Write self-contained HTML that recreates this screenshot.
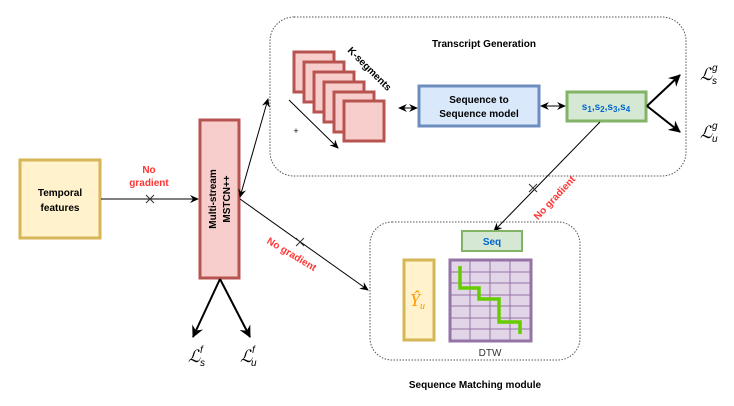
<!DOCTYPE html>
<html><head><meta charset="utf-8"><style>
html,body{margin:0;padding:0;background:#fff;}
svg{display:block;font-family:"Liberation Sans",sans-serif;}
</style></head><body>
<svg width="734" height="406" viewBox="0 0 734 406" xmlns="http://www.w3.org/2000/svg">
<defs>
<marker id="a" markerWidth="10" markerHeight="10" refX="8" refY="5" orient="auto" markerUnits="userSpaceOnUse"><path d="M0,1 L9,5 L0,9 L3,5 Z" fill="#000"/></marker>
<marker id="as" markerWidth="10" markerHeight="10" refX="1" refY="5" orient="auto" markerUnits="userSpaceOnUse"><path d="M9,1 L0,5 L9,9 L6,5 Z" fill="#000"/></marker>
<marker id="b" markerWidth="14" markerHeight="14" refX="11" refY="7" orient="auto" markerUnits="userSpaceOnUse"><path d="M0,1 L12,7 L0,13 L4,7 Z" fill="#000"/></marker>
</defs>
<rect x="270" y="17" width="416" height="159" rx="24" fill="none" stroke="#555" stroke-dasharray="1.5,1.5"/>
<rect x="370" y="222" width="210" height="138" rx="22" fill="none" stroke="#555" stroke-dasharray="1.5,1.5"/>
<text x="484" y="47" font-size="10" font-weight="bold" text-anchor="middle">Transcript Generation</text>
<text x="475" y="388" font-size="10" font-weight="bold" text-anchor="middle">Sequence Matching module</text>
<rect x="20" y="160" width="80" height="78" fill="#fff2cc" stroke="#d6b656" stroke-width="3"/>
<text x="60" y="196" font-size="10" font-weight="bold" text-anchor="middle">Temporal</text>
<text x="60" y="211" font-size="10" font-weight="bold" text-anchor="middle">features</text>
<line x1="101" y1="199" x2="198" y2="199" stroke="#000" marker-end="url(#a)"/>
<path d="M146,195 L154,203 M154,195 L146,203" stroke="#333" stroke-width="1"/>
<text x="149" y="173" font-size="10" font-weight="bold" fill="#ff3333" text-anchor="middle">No</text>
<text x="149" y="186" font-size="10" font-weight="bold" fill="#ff3333" text-anchor="middle">gradient</text>
<rect x="200" y="120" width="39" height="158" fill="#f8cecc" stroke="#b85450" stroke-width="3"/>
<text transform="translate(216,199) rotate(-90)" font-size="10" font-weight="bold" text-anchor="middle">Multi-stream</text>
<text transform="translate(230,199) rotate(-90)" font-size="10" font-weight="bold" text-anchor="middle">MSTCN++</text>
<line x1="220" y1="279" x2="193" y2="337" stroke="#000" stroke-width="2" marker-end="url(#b)"/>
<line x1="220" y1="279" x2="250" y2="337" stroke="#000" stroke-width="2" marker-end="url(#b)"/>
<text x="188" y="362" font-size="17" font-style="italic" font-family="Liberation Serif">ℒ</text><text x="200" y="353" font-size="10" font-style="italic">f</text><text x="200" y="366" font-size="10" font-style="italic">s</text>
<text x="240" y="362" font-size="17" font-style="italic" font-family="Liberation Serif">ℒ</text><text x="252" y="353" font-size="10" font-style="italic">f</text><text x="251" y="366" font-size="10" font-style="italic">u</text>
<line x1="240" y1="197" x2="268" y2="99" stroke="#000" marker-start="url(#as)" marker-end="url(#a)"/>
<line x1="240" y1="199" x2="368" y2="290" stroke="#000" marker-end="url(#a)"/>
<path d="M296,238 L304,246 M304,238 L296,246" stroke="#333" stroke-width="1"/>
<text transform="translate(290,257) rotate(31)" font-size="10" font-weight="bold" fill="#ff3333" text-anchor="middle">No gradient</text>
<g fill="#f8cecc" stroke="#b85450" stroke-width="3">
<rect x="294" y="52" width="40" height="40"/>
<rect x="304" y="62" width="40" height="40"/>
<rect x="314" y="72" width="40" height="40"/>
<rect x="324" y="82" width="40" height="40"/>
<rect x="334" y="92" width="40" height="40"/>
<rect x="344" y="101" width="40" height="40"/>
</g>
<text transform="translate(347,51) rotate(45)" font-size="10" font-weight="bold">K-segments</text>
<line x1="289" y1="100" x2="338" y2="148" stroke="#000" marker-end="url(#a)"/>
<text x="296" y="134" font-size="9" text-anchor="middle">+</text>
<line x1="399" y1="108" x2="417" y2="108" stroke="#000" marker-start="url(#as)" marker-end="url(#a)"/>
<rect x="419" y="86" width="120" height="40" fill="#dae8fc" stroke="#6c8ebf" stroke-width="3"/>
<text x="479" y="103" font-size="10" font-weight="bold" text-anchor="middle">Sequence to</text>
<text x="479" y="117" font-size="10" font-weight="bold" text-anchor="middle">Sequence model</text>
<line x1="541" y1="106" x2="565" y2="106" stroke="#000" marker-start="url(#as)" marker-end="url(#a)"/>
<rect x="567" y="92" width="79" height="29" fill="#d5e8d4" stroke="#82b366" stroke-width="3"/>
<text x="606" y="110" font-size="10" font-weight="bold" fill="#0066cc" text-anchor="middle">s<tspan font-size="8" dy="2">1</tspan><tspan dy="-2">,s</tspan><tspan font-size="8" dy="2">2</tspan><tspan dy="-2">,s</tspan><tspan font-size="8" dy="2">3</tspan><tspan dy="-2">,s</tspan><tspan font-size="8" dy="2">4</tspan></text>
<line x1="647" y1="106" x2="680" y2="75" stroke="#000" stroke-width="2" marker-end="url(#b)"/>
<line x1="647" y1="106" x2="680" y2="132" stroke="#000" stroke-width="2" marker-end="url(#b)"/>
<text x="700" y="80" font-size="17" font-style="italic" font-family="Liberation Serif">ℒ</text><text x="712" y="71" font-size="10" font-style="italic">g</text><text x="712" y="84" font-size="10" font-style="italic">s</text>
<text x="700" y="138" font-size="17" font-style="italic" font-family="Liberation Serif">ℒ</text><text x="712" y="129" font-size="10" font-style="italic">g</text><text x="712" y="142" font-size="10" font-style="italic">u</text>
<line x1="600" y1="122" x2="494" y2="231" stroke="#000" marker-end="url(#a)"/>
<path d="M529,184 L537,192 M537,184 L529,192" stroke="#333" stroke-width="1"/>
<text transform="translate(557,200) rotate(-47)" font-size="10" font-weight="bold" fill="#ff3333" text-anchor="middle">No gradient</text>
<rect x="462" y="231" width="60" height="20" fill="#d5e8d4" stroke="#82b366" stroke-width="2"/>
<text x="492" y="245" font-size="10" font-weight="bold" fill="#0066cc" text-anchor="middle">Seq</text>
<rect x="404" y="260" width="30" height="80" fill="#fff2cc" stroke="#d6b656" stroke-width="3"/>
<text x="410" y="306" font-size="18" font-style="italic" fill="#ff9900" font-family="Liberation Serif">Ŷ<tspan font-size="10" dy="3">u</tspan></text>
<rect x="450" y="260" width="81" height="81" fill="#e1d5e7" stroke="#9673a6" stroke-width="3"/>
<g stroke="#9673a6" stroke-width="1">
<line x1="470" y1="260" x2="470" y2="341"/><line x1="490" y1="260" x2="490" y2="341"/><line x1="510" y1="260" x2="510" y2="341"/>
<line x1="450" y1="272" x2="531" y2="272"/><line x1="450" y1="283" x2="531" y2="283"/><line x1="450" y1="295" x2="531" y2="295"/><line x1="450" y1="306" x2="531" y2="306"/><line x1="450" y1="318" x2="531" y2="318"/><line x1="450" y1="329" x2="531" y2="329"/>
</g>
<polyline points="460,266 460,288 479,288 479,299 499,299 499,322 520,322 520,334" fill="none" stroke="#66cc00" stroke-width="3.5"/>
<text x="490" y="356" font-size="10" fill="#333" text-anchor="middle">DTW</text>
</svg>
</body></html>
